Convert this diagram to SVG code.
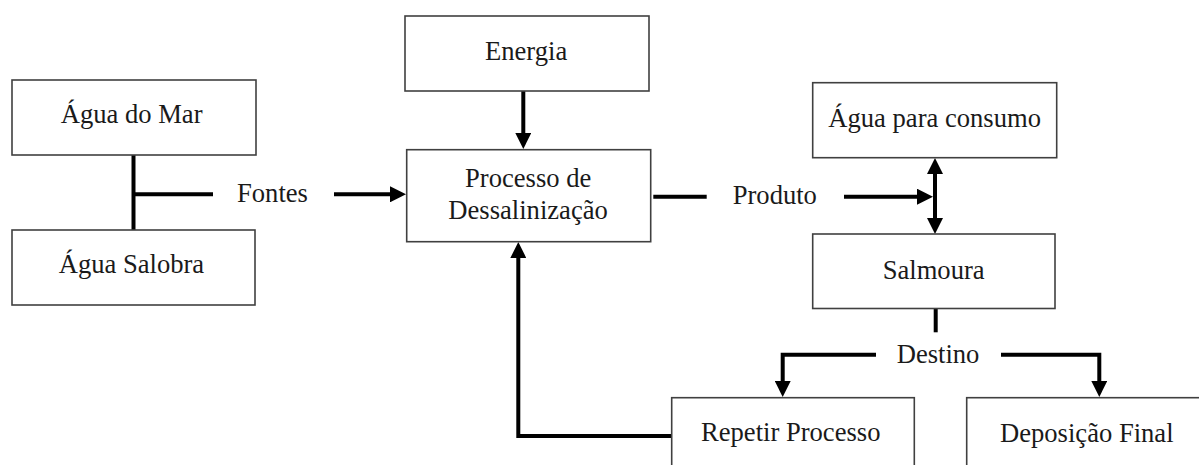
<svg xmlns="http://www.w3.org/2000/svg" width="1199" height="465" viewBox="0 0 1199 465">
<style>
.box{fill:#fff;stroke:#404040;stroke-width:1.6}
.lbl{font-family:'Liberation Serif',serif;font-size:26.6px;fill:#1a1a1a}
.con{fill:none;stroke:#000;stroke-width:4}
.arr{fill:none;stroke:#000;stroke-width:4;marker-end:url(#ah)}
</style>
<defs>
<marker id="ah" markerUnits="userSpaceOnUse" markerWidth="16" markerHeight="16" viewBox="0 0 16 16" refX="1" refY="8" orient="auto-start-reverse">
<path d="M0,0 L16,8 L0,16 Z" fill="#000"/>
</marker>
</defs>
<rect width="1199" height="465" fill="#fff"/>
<g id="connectors">
<path class="con" d="M133.5,155 V230"/>
<path class="con" d="M133.5,194.3 H213"/>
<path class="arr" d="M334,194.3 H391"/>
<path class="arr" d="M523.3,90.7 V134"/>
<path class="con" d="M653.3,196.7 H706.7"/>
<path class="arr" d="M844,196.7 H918"/>
<path class="arr" style="marker-start:url(#ah)" d="M935,173 V219"/>
<path class="con" d="M935.7,308.5 V332.3"/>
<path class="arr" d="M876,354.8 H782.7 V382"/>
<path class="arr" d="M1001,354.8 H1099.3 V382"/>
<path class="arr" d="M671.7,436 H518.3 V257"/>
</g>
<g id="agua-mar">
<rect class="box" x="12" y="80" width="244" height="75"/>
<text class="lbl" x="60.7" y="123.3">Água do Mar</text>
</g>
<g id="agua-salobra">
<rect class="box" x="12" y="230" width="243" height="75"/>
<text class="lbl" x="58.7" y="273.3">Água Salobra</text>
</g>
<g id="fontes">
<text class="lbl" x="237" y="201.7">Fontes</text>
</g>
<g id="energia">
<rect class="box" x="405" y="16" width="244" height="75"/>
<text class="lbl" x="485" y="60">Energia</text>
</g>
<g id="processo">
<rect class="box" x="406.7" y="149.7" width="244" height="92"/>
<text class="lbl" x="465" y="187">Processo de</text>
<text class="lbl" x="448.3" y="219">Dessalinização</text>
</g>
<g id="produto">
<text class="lbl" x="732.7" y="204.3">Produto</text>
</g>
<g id="agua-consumo">
<rect class="box" x="812.7" y="82.7" width="244" height="75"/>
<text class="lbl" x="828.3" y="126.7">Água para consumo</text>
</g>
<g id="salmoura">
<rect class="box" x="812.7" y="234" width="242.3" height="74.5"/>
<text class="lbl" x="882.7" y="279.3">Salmoura</text>
</g>
<g id="destino">
<text class="lbl" x="896.7" y="363.3">Destino</text>
</g>
<g id="repetir">
<rect class="box" x="671.7" y="397.7" width="242.6" height="90"/>
<text class="lbl" x="701" y="440.7">Repetir Processo</text>
</g>
<g id="deposicao">
<rect class="box" x="966.7" y="397.7" width="260" height="90"/>
<text class="lbl" x="1000" y="441.7">Deposição Final</text>
</g>
</svg>
